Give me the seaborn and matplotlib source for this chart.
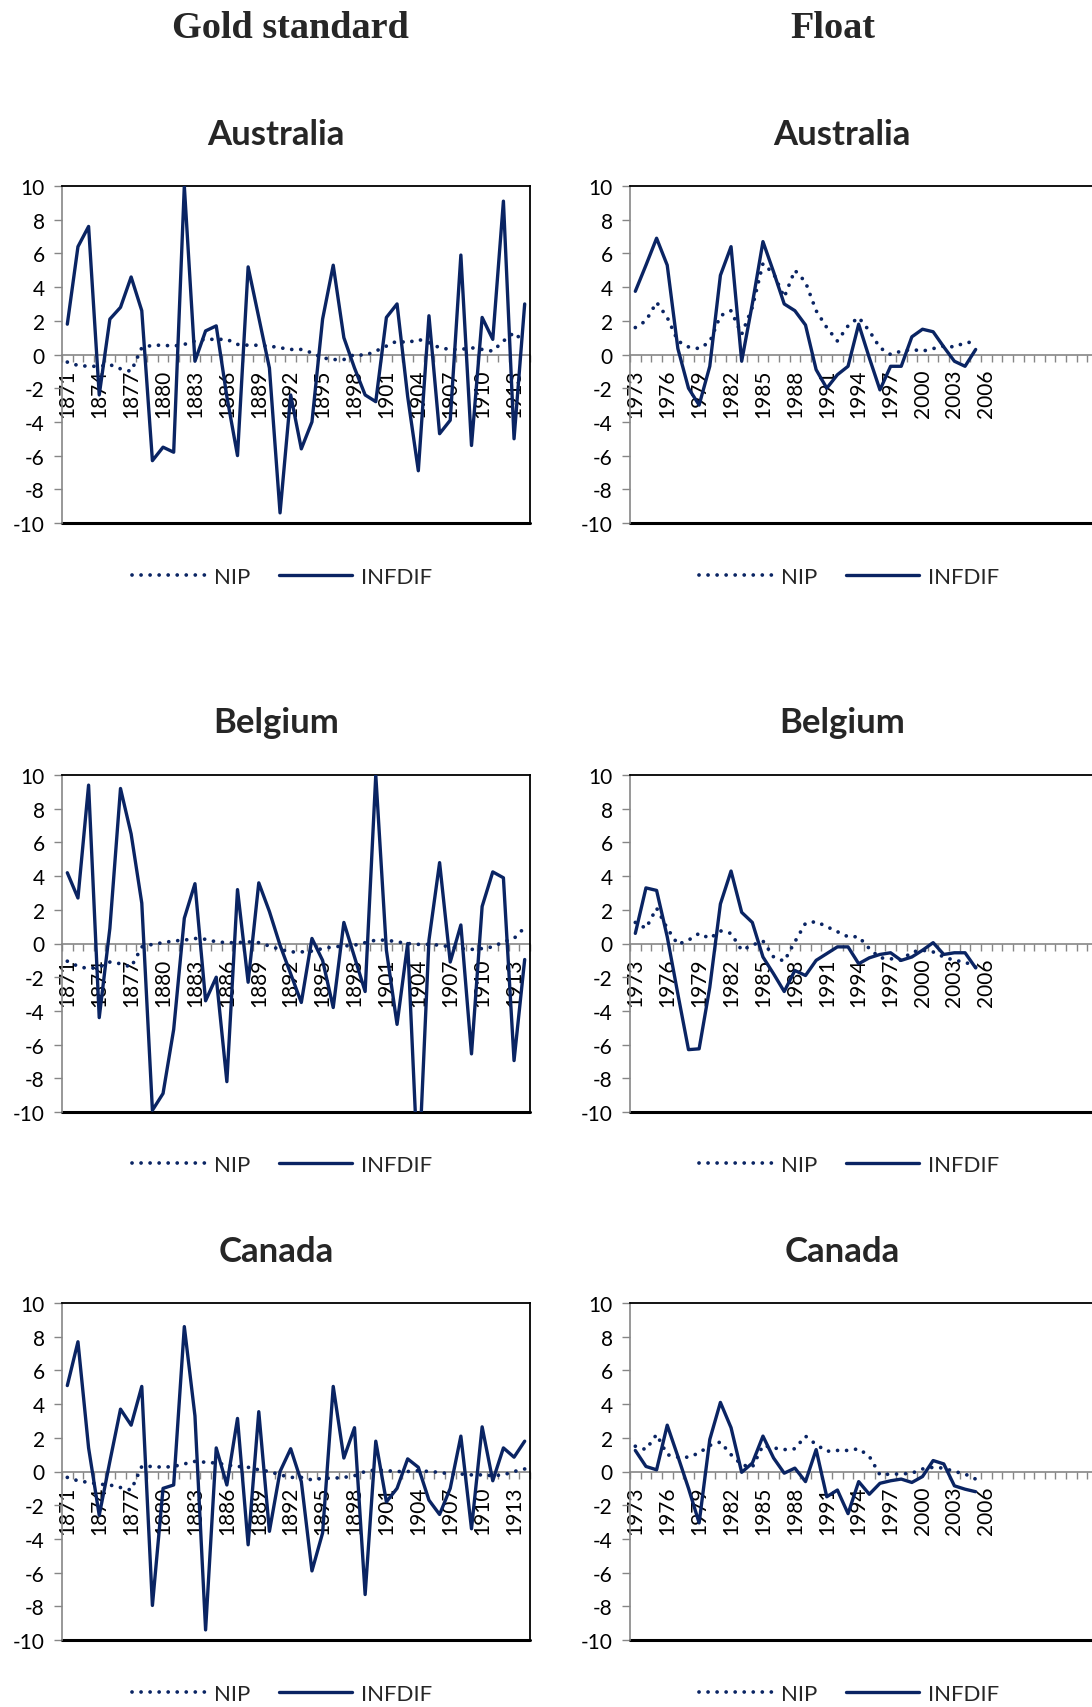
import pandas as pd
import seaborn as sns
import matplotlib.pyplot as plt

# Categories (Excel keeps 44 slots on every axis)
gold_years = list(range(1871, 1915))
float_years = list(range(1973, 2006))
float_axis_years = list(range(1973, 2017))

# Gold standard panels
aus_gold_nip = [-0.45, -0.65, -0.7, -0.7, -0.6, -0.85, -1.0, 0.4, 0.55, 0.55,
                0.5, 0.6, 0.8, 0.9, 0.9, 0.9, 0.6, 0.55, 0.55, 0.5,
                0.4, 0.3, 0.3, 0.1, -0.2, -0.3, -0.3, 0.0, -0.05, 0.2,
                0.5, 0.8, 0.7, 0.9, 0.7, 0.4, 0.3, 0.3, 0.4, 0.3,
                0.2, 0.8, 1.3, 0.7]
aus_gold_infdif = [1.8, 6.4, 7.6, -2.4, 2.1, 2.8, 4.6, 2.6, -6.3, -5.5,
                   -5.8, 10.0, -0.4, 1.4, 1.7, -2.5, -6.0, 5.2, 2.2, -0.8,
                   -9.4, -2.4, -5.6, -4.0, 2.1, 5.3, 1.0, -0.8, -2.4, -2.8,
                   2.2, 3.0, -2.5, -6.9, 2.3, -4.7, -3.9, 5.9, -5.4, 2.2,
                   0.9, 9.1, -5.0, 3.0]

bel_gold_nip = [-1.05, -1.35, -1.5, -1.4, -1.1, -1.2, -1.4, -0.2, -0.05, 0.05,
                0.15, 0.2, 0.3, 0.25, 0.1, 0.05, 0.05, 0.1, 0.05, -0.15,
                -0.35, -0.5, -0.5, -0.45, -0.3, -0.2, -0.15, -0.1, 0.05, 0.2,
                0.2, 0.1, 0.0, -0.05, -0.05, -0.1, -0.2, -0.3, -0.35, -0.3,
                -0.2, 0.1, 0.3, 0.95]
bel_gold_infdif = [4.2, 2.7, 9.4, -4.4, 0.9, 9.2, 6.5, 2.4, -9.9, -8.9,
                   -5.1, 1.5, 3.55, -3.4, -2.0, -8.2, 3.2, -2.3, 3.6, 1.9,
                   -0.1, -1.8, -3.5, 0.3, -1.0, -3.8, 1.25, -0.8, -2.85, 10.0,
                   -0.4, -4.8, 0.0, -14.0, 0.2, 4.8, -1.1, 1.1, -6.55, 2.2,
                   4.25, 3.9, -6.95, -0.95]

can_gold_nip = [-0.35, -0.55, -0.65, -0.75, -0.8, -0.95, -1.1, 0.3, 0.3, 0.25,
                0.3, 0.45, 0.6, 0.55, 0.5, 0.4, 0.3, 0.25, 0.1, 0.0,
                -0.2, -0.35, -0.35, -0.5, -0.4, -0.4, -0.35, -0.25, 0.0, 0.1,
                0.05, 0.0, 0.0, 0.05, 0.0, -0.05, -0.15, -0.15, -0.2, -0.2,
                -0.25, -0.2, 0.0, 0.15]
can_gold_infdif = [5.1, 7.7, 1.4, -2.6, 0.6, 3.7, 2.75, 5.05, -7.95, -1.0,
                   -0.8, 8.6, 3.3, -9.4, 1.4, -0.8, 3.15, -4.35, 3.55, -3.55,
                   0.0, 1.35, -0.6, -5.9, -3.65, 5.05, 0.8, 2.6, -7.3, 1.8,
                   -1.8, -1.0, 0.75, 0.25, -1.7, -2.55, -1.0, 2.1, -3.4, 2.65,
                   -0.55, 1.4, 0.85, 1.8]

# Float panels
aus_float_nip = [1.6, 2.0, 3.1, 2.2, 0.8, 0.45, 0.35, 0.75, 2.3, 2.6,
                 1.2, 2.8, 5.4, 4.8, 3.4, 5.0, 4.3, 2.6, 1.6, 0.8,
                 1.7, 2.2, 1.4, 0.4, 0.0, 0.2, 0.3, 0.2, 0.35, 0.5,
                 0.45, 0.7, 0.75]
aus_float_infdif = [3.75, 5.3, 6.9, 5.3, 0.35, -2.0, -3.0, -0.7, 4.7, 6.4,
                    -0.4, 3.0, 6.7, 4.9, 3.0, 2.6, 1.75, -0.9, -2.0, -1.2,
                    -0.7, 1.8, -0.2, -2.1, -0.7, -0.7, 1.05, 1.5, 1.35, 0.45,
                    -0.4, -0.7, 0.3]

bel_float_nip = [1.25, 0.9, 2.1, 0.9, -0.05, 0.2, 0.6, 0.3, 0.75, 0.6,
                 -0.4, -0.1, 0.15, -0.8, -1.05, 0.1, 1.2, 1.3, 1.0, 0.7,
                 0.4, 0.4, -0.3, -0.85, -0.9, -1.0, -0.5, -0.4, -0.5, -0.8,
                 -1.0, -1.1, -1.4]
bel_float_infdif = [0.6, 3.3, 3.15, 0.4, -3.0, -6.3, -6.25, -2.6, 2.35, 4.3,
                    1.85, 1.25, -0.8, -1.8, -2.85, -1.6, -1.9, -1.0, -0.6, -0.2,
                    -0.2, -1.2, -0.85, -0.65, -0.55, -1.0, -0.8, -0.4, 0.05, -0.65,
                    -0.55, -0.55, -1.45]

can_float_nip = [1.5, 1.3, 2.2, 1.0, 0.85, 0.85, 1.1, 1.55, 1.75, 1.0,
                 0.4, 0.25, 1.55, 1.4, 1.3, 1.35, 2.1, 1.6, 1.2, 1.25,
                 1.25, 1.35, 0.9, -0.2, -0.15, -0.15, -0.1, 0.15, 0.25, 0.2,
                 0.0, -0.15, -0.45]
can_float_infdif = [1.25, 0.3, 0.1, 2.75, 0.9, -1.0, -3.05, 1.9, 4.1, 2.6,
                    -0.05, 0.5, 2.1, 0.8, -0.1, 0.2, -0.6, 1.3, -1.5, -1.1,
                    -2.5, -0.6, -1.35, -0.7, -0.55, -0.45, -0.65, -0.3, 0.65, 0.45,
                    -0.85, -1.05, -1.2]

NAVY = '#0A2463'
AXIS_GRAY = '#868686'

sns.set_theme(style='white')
plt.rcParams['font.family'] = ['Lato', 'DejaVu Sans']
plt.rcParams['axes.unicode_minus'] = False

W, H = 1092, 1708
fig = plt.figure(figsize=(W / 100, H / 100), dpi=100)


def draw_panel(left, top, years, axis_years, last_label, nip, infdif,
               title, title_x, title_y, legend_x, legend_y):
    ax = fig.add_axes([left / W, 1 - (top + 337) / H, 468 / W, 337 / H])
    df = pd.DataFrame({
        'pos': [axis_years.index(y) for y in years],
        'NIP': nip,
        'INFDIF': infdif,
    })
    sns.lineplot(data=df, x='pos', y='NIP', ax=ax, color=NAVY, lw=2.7,
                 linestyle=(0, (0.01, 2.4)), dash_capstyle='round',
                 label='NIP', legend=False, zorder=3)
    sns.lineplot(data=df, x='pos', y='INFDIF', ax=ax, color=NAVY, lw=2.4,
                 label='INFDIF', legend=False, zorder=3)

    n = len(axis_years)
    ax.set_xlim(-0.5, n - 0.5)
    ax.set_ylim(-10, 10)
    ax.set_xlabel('')
    ax.set_ylabel('')

    # value axis
    ax.set_yticks(range(-10, 11, 2))
    ax.tick_params(axis='y', which='major', left=True, length=5.5, width=1,
                   color=AXIS_GRAY, pad=7, labelsize=15, labelcolor='black')

    # category axis crosses at zero
    ax.spines['bottom'].set_position(('data', 0))
    ax.spines['bottom'].set_color(AXIS_GRAY)
    ax.spines['bottom'].set_linewidth(1.2)
    ax.spines['bottom'].set_zorder(1)
    ax.set_xticks([i - 0.5 for i in range(n + 1)])
    ax.set_xticklabels([])
    last = axis_years.index(last_label)
    lab_pos = list(range(0, last + 1, 3))
    ax.set_xticks(lab_pos, minor=True)
    ax.set_xticklabels([str(axis_years[i]) for i in lab_pos], minor=True,
                       rotation=90)
    ax.tick_params(axis='x', which='major', bottom=True, length=5, width=1,
                   color=AXIS_GRAY)
    ax.tick_params(axis='x', which='minor', bottom=True, length=0, pad=10,
                   labelsize=15, labelcolor='black')
    for lbl in ax.get_xticklabels(minor=True):
        lbl.set_zorder(1)

    ax.spines['left'].set_color(AXIS_GRAY)
    ax.spines['left'].set_linewidth(1.2)
    for side in ('top', 'right'):
        ax.spines[side].set_color('black')
        ax.spines[side].set_linewidth(1.3)
    ax.axhline(-10, color='black', lw=2.2, clip_on=False, zorder=2.5)

    fig.text(title_x / W, 1 - title_y / H, title, ha='center', va='center',
             fontsize=25, fontweight='bold')

    handles, labels = ax.get_legend_handles_labels()
    ax.legend(handles, labels, loc='center',
              bbox_to_anchor=(legend_x / W, 1 - legend_y / H),
              bbox_transform=fig.transFigure, ncol=2, frameon=False,
              handlelength=3.3, handletextpad=0.4, columnspacing=1.3,
              fontsize=16)
    return ax


rows = [
    ('Australia', 187, 135, 578, aus_gold_nip, aus_gold_infdif,
     aus_float_nip, aus_float_infdif),
    ('Belgium', 776, 723, 1166, bel_gold_nip, bel_gold_infdif,
     bel_float_nip, bel_float_infdif),
    ('Canada', 1304, 1252, 1695, can_gold_nip, can_gold_infdif,
     can_float_nip, can_float_infdif),
]

for name, top, ty, ly, g_nip, g_inf, f_nip, f_inf in rows:
    draw_panel(62, top, gold_years, gold_years, 1913, g_nip, g_inf,
               name, 276, ty, 282, ly)
    draw_panel(630, top, float_years, float_axis_years, 2006, f_nip, f_inf,
               name, 842, ty, 849, ly)

fig.text(290 / W, 1 - 28 / H, 'Gold standard', ha='center', va='center',
         fontsize=27.5, fontweight='bold',
         family=['Liberation Serif', 'DejaVu Serif'])
fig.text(833 / W, 1 - 28 / H, 'Float', ha='center', va='center',
         fontsize=27.5, fontweight='bold',
         family=['Liberation Serif', 'DejaVu Serif'])

fig.savefig('out.png', dpi=100)
